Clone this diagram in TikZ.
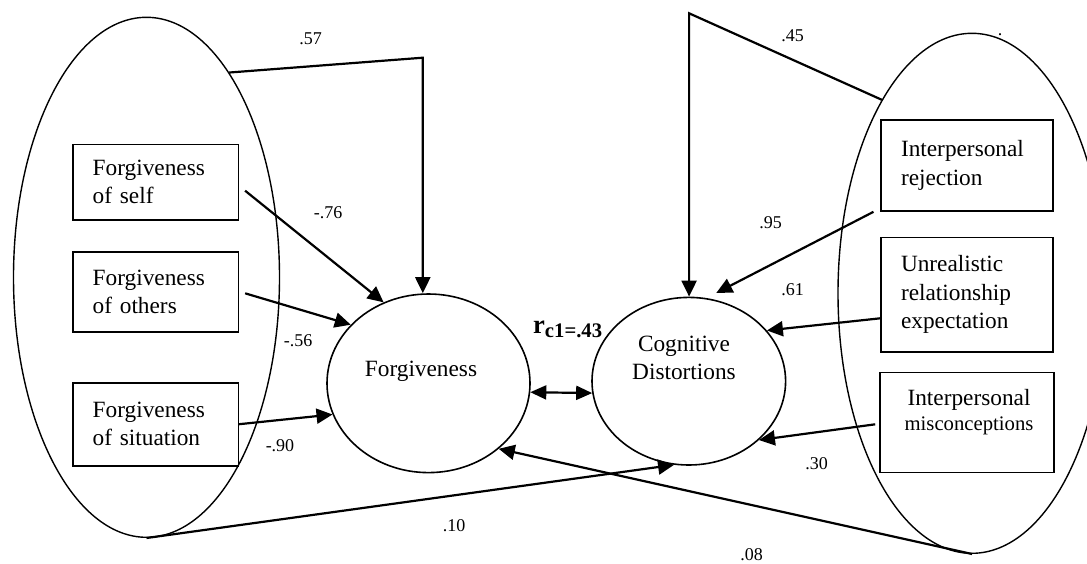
\documentclass[tikz,border=0pt]{standalone}
\usepackage{fontspec}
\setmainfont{Liberation Serif}
\usetikzlibrary{shapes.geometric,arrows.meta,calc}
\begin{document}
\begin{tikzpicture}[x=1pt,y=-1pt,
  outer/.style={ellipse,draw,line width=1.4pt,inner sep=0pt},
  latent/.style={ellipse,draw,line width=1.6pt,inner sep=0pt},
  itembox/.style={rectangle,draw,line width=1.6pt,inner xsep=20pt,inner ysep=0pt,align=left,font=\fontsize{23.3}{28}\selectfont},
  leftbox/.style={itembox,text width=125.6pt},
  rightbox/.style={itembox,text width=132pt,font=\fontsize{23.3}{28.5}\selectfont},
  plabel/.style={font=\fontsize{18}{20}\selectfont,inner sep=0pt},
  conn/.style={line width=2.2pt,-{Triangle[length=16pt,width=15pt]}},
  dconn/.style={line width=2.2pt,{Triangle[length=16pt,width=14pt]}-{Triangle[length=16pt,width=14pt]}}
]
\useasboundingbox (0,0) rectangle (1087,563);

% outer ellipses
\node[outer,minimum width=266pt,minimum height=520pt] (LE) at (146.5,277.3) {};
\node[outer,minimum width=268pt,minimum height=520pt] (RE) at (972,293.3) {};

% latent variables
\node[latent,minimum width=203pt,minimum height=178.6pt] (F) at (428.5,383.3) {};
\node[font=\fontsize{23.3}{28}\selectfont,inner sep=0pt] (Ftext) at (421,371.5) {Forgiveness};
\node[latent,minimum width=193.6pt,minimum height=167.6pt] (C) at (688.8,381.2) {};
\node[align=center,font=\fontsize{23.3}{27.6}\selectfont,inner sep=0pt] (Ctext) at (684,357.8) {Cognitive\\Distortions};

% indicator boxes (left)
\node[leftbox,minimum height=75.7pt] (fs) at (155.5,182.2) {Forgiveness\\of self};
\node[leftbox,minimum height=80pt] (fo) at (155.5,291.7) {Forgiveness\\of others};
\node[leftbox,minimum height=83pt] (fsit) at (155.5,424.2) {Forgiveness\\of situation};

% indicator boxes (right)
\node[rightbox,minimum height=91pt] (rr) at (967,165.5) {Interpersonal\\rejection};
\node[rightbox,minimum height=114.4pt] (ru) at (967,294.5) {Unrealistic\\relationship\\expectation};
\node[rectangle,draw,line width=1.6pt,minimum width=174pt,minimum height=100pt,inner sep=0pt] (rm) at (967,422.3) {};
\node[align=center,font=\fontsize{23.3}{25}\selectfont,inner sep=0pt] (rmtext) at (969,412) {Interpersonal\\{\fontsize{20.7}{25}\selectfont misconceptions}};

% connectors
\coordinate (k57) at (422.8,57.7);
\draw[conn] (LE.68.6) -- (k57) -- (k57 |- F.north);
\coordinate (k45) at (689.1,13.3);
\draw[conn] (RE.115.9) -- (k45) -- (k45 |- C.north);

\draw[conn] ([xshift=6pt,yshift=-8.5pt]fs.east) -- (F.119.4);
\draw[conn] ([xshift=6pt,yshift=-1.6pt]fo.east) -- (F.143.8);
\draw[conn] (fsit.east) -- (F.198.8);

\draw[conn,shorten >=11pt] ([xshift=-6.7pt]rr.south west) -- (C.78.7);
\draw[conn] ([yshift=-23.8pt]ru.west) -- (C.33.1);
\draw[conn] ([xshift=-4pt,yshift=-2pt]rm.west) -- (C.320.3);

\draw[conn] (LE.south) -- (C.260.8);
\draw[conn] (RE.south) -- (F.317);

\draw[dconn] (F.-5.5) -- (C.187);

% labels
\node[plabel] (l57) at (310.5,38.7) {.57};
\node[plabel] (l45) at (792.6,35.7) {.45};
\node[plabel] (ldot) [anchor=base] at (1000,35) {.};
\node[plabel] (l76) at (328,212.3) {-.76};
\node[plabel] (l56) at (298.2,341) {-.56};
\node[plabel] (l90) at (280,445.7) {-.90};
\node[plabel] (l10) at (454,526) {.10};
\node[plabel] (l95) at (770.5,222.7) {.95};
\node[plabel] (l61) at (792.6,290) {.61};
\node[plabel] (l30) at (816.7,463.3) {.30};
\node[plabel] (l08) at (751.7,555) {.08};
\node[anchor=base west,inner sep=0pt] (rc) at (533,333) {\fontsize{26.5}{28}\selectfont\bfseries r\raisebox{-4pt}{\fontsize{20.7}{22}\selectfont c1=.43}};
\end{tikzpicture}
\end{document}
